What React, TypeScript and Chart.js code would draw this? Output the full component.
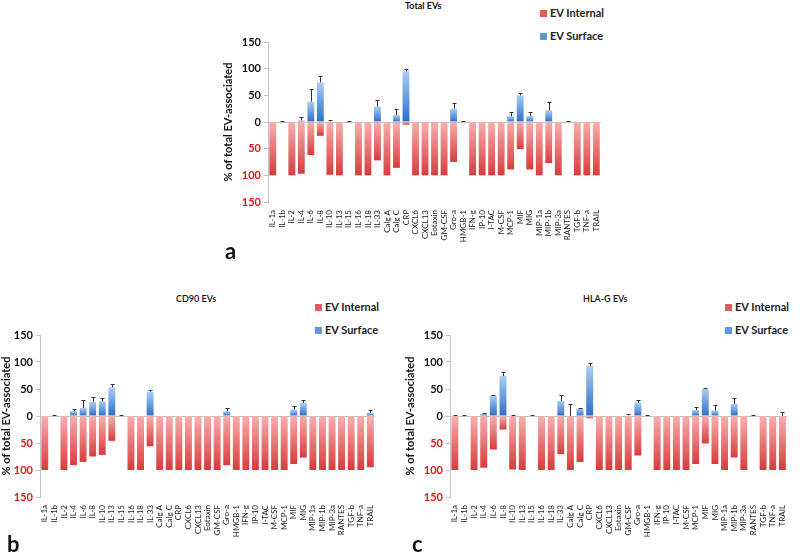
import { useEffect, useRef } from "react";
import Chart from "chart.js/auto";

const cytokines = [
  "IL-1a", "IL-1b", "IL-2", "IL-4", "IL-6", "IL-8", "IL-10", "IL-13", "IL-15", "IL-16",
  "IL-18", "IL-33", "Calg A", "Calg C", "CRP", "CXCL6", "CXCL13", "Eotaxin", "GM-CSF", "Gro-a",
  "HMGB-1", "IFN-g", "IP-10", "I-TAC", "M-CSF", "MCP-1", "MIF", "MIG", "MIP-1a", "MIP-1b",
  "MIP-3a", "RANTES", "TGF-b", "TNF-a", "TRAIL",
];

// Total EVs
const totalInternal = [
  100, 0, 100, 97, 62, 26, 99, 100, 0, 100,
  100, 72, 100, 86, 5, 100, 100, 100, 100, 75,
  0, 100, 100, 100, 100, 89, 51, 89, 100, 77,
  100, 0, 100, 100, 100,
];
const totalSurface = [
  0, 0, 0, 3, 38, 74, 1, 0, 0, 0,
  0, 29, 0, 13, 95, 0, 0, 0, 0, 25,
  0, 0, 0, 0, 0, 11, 50, 11, 0, 22,
  0, 0, 0, 0, 0,
];
const totalSurfaceErr = [
  0, 1, 0, 6, 24, 12, 2, 0, 1, 0,
  0, 12, 0, 12, 5, 0, 0, 0, 0, 11,
  1, 0, 0, 0, 0, 8, 5, 8, 0, 15,
  0, 1, 0, 0, 0,
];

// CD90 EVs
const cd90Internal = [
  100, 0, 100, 91, 85, 75, 72, 46, 0, 100,
  100, 56, 100, 100, 100, 100, 100, 100, 100, 91,
  100, 100, 100, 100, 100, 100, 89, 77, 100, 100,
  100, 100, 100, 100, 95,
];
const cd90Surface = [
  0, 0, 0, 9, 15, 26, 27, 53, 0, 0,
  0, 45, 0, 0, 0, 0, 0, 0, 0, 9,
  0, 0, 0, 0, 0, 0, 12, 24, 0, 0,
  0, 0, 0, 0, 6,
];
const cd90SurfaceErr = [
  0, 1, 0, 4, 15, 9, 6, 6, 1, 0,
  0, 4, 0, 0, 0, 0, 0, 0, 0, 6,
  0, 0, 0, 0, 0, 0, 6, 6, 0, 0,
  0, 0, 0, 0, 5,
];

// HLA-G EVs
const hlagInternal = [
  100, 0, 100, 96, 62, 25, 99, 100, 0, 100,
  100, 71, 100, 85, 4, 100, 100, 100, 100, 73,
  0, 100, 100, 100, 100, 89, 51, 89, 100, 77,
  100, 0, 100, 100, 100,
];
const hlagSurface = [
  1, 0, 0, 4, 38, 74, 1, 0, 0, 0,
  0, 28, 0, 14, 93, 0, 0, 0, 1, 25,
  0, 0, 0, 0, 0, 11, 50, 10, 0, 22,
  0, 0, 0, 0, 0,
];
const hlagSurfaceErr = [
  1, 1, 0, 1, 1, 7, 1, 0, 1, 0,
  0, 10, 23, 1, 6, 0, 0, 0, 3, 4,
  1, 0, 0, 0, 0, 6, 2, 11, 0, 11,
  0, 1, 0, 0, 7,
];

const FONT = "Lato, 'Liberation Sans', sans-serif";

const errorBarPlugin = {
  id: "errorBars",
  afterDatasetsDraw(chart: any) {
    const ctx = chart.ctx;
    const y = chart.scales.y;
    chart.data.datasets.forEach((ds: any, di: number) => {
      const errs: number[] | undefined = ds.errors;
      if (!errs) return;
      const meta = chart.getDatasetMeta(di);
      meta.data.forEach((bar: any, i: number) => {
        const e = errs[i];
        if (!e) return;
        const v = ds.data[i];
        const x = Math.round(bar.x) + 0.5;
        const y0 = y.getPixelForValue(v);
        const y1 = Math.round(y.getPixelForValue(v + e)) + 0.5;
        ctx.save();
        ctx.strokeStyle = "#333";
        ctx.lineWidth = 1;
        ctx.beginPath();
        ctx.moveTo(x, y0);
        ctx.lineTo(x, y1);
        ctx.moveTo(x - 2, y1);
        ctx.lineTo(x + 2, y1);
        ctx.stroke();
        ctx.restore();
      });
    });
  },
};

// gradient from the zero line (c0) to the end of each bar (c1)
function barFill(c0: string, c1: string) {
  return (c: any) => {
    const chart = c.chart;
    const y = chart.scales?.y;
    if (!y || c.type !== "data") return c1;
    const v = c.parsed?.y ?? c.raw;
    const p0 = y.getPixelForValue(0);
    const p1 = y.getPixelForValue(v);
    if (!isFinite(p0) || !isFinite(p1) || Math.abs(p1 - p0) < 1) return c1;
    const g = chart.ctx.createLinearGradient(0, p0, 0, p1);
    g.addColorStop(0, c0);
    g.addColorStop(1, c1);
    return g;
  };
}

type PanelProps = {
  internal: number[];
  surface: number[];
  errors: number[];
  left: number;
  top: number;
  width: number;
  height: number;
  padRight: number;
  yWidth: number;
  xHeight: number;
};

function Panel({ internal, surface, errors, left, top, width, height, padRight, yWidth, xHeight }: PanelProps) {
  const canvasRef = useRef<HTMLCanvasElement | null>(null);

  useEffect(() => {
    if (!canvasRef.current) return;
    const chart = new Chart(canvasRef.current, {
      type: "bar",
      data: {
        labels: cytokines,
        datasets: [
          {
            label: "EV Internal",
            data: internal.map((v) => -v),
            backgroundColor: barFill("#f8aeae", "#d83c3c"),
            categoryPercentage: 0.72,
            barPercentage: 1,
          },
          {
            label: "EV Surface",
            data: surface,
            errors,
            backgroundColor: barFill("#2f6ec4", "#a9cdf5"),
            categoryPercentage: 0.72,
            barPercentage: 1,
          } as any,
        ],
      },
      options: {
        animation: false,
        responsive: true,
        maintainAspectRatio: false,
        layout: { padding: { top: 10, right: padRight, left: 0, bottom: 0 } },
        plugins: { legend: { display: false }, tooltip: { enabled: false } },
        scales: {
          x: {
            stacked: true,
            grid: { display: false, drawTicks: false },
            border: { display: false },
            afterFit: (s: any) => {
              s.height = xHeight;
            },
            ticks: {
              autoSkip: false,
              minRotation: 90,
              maxRotation: 90,
              padding: 8,
              color: "#222",
              font: { family: FONT, size: 8 },
            },
          },
          y: {
            stacked: true,
            min: -150,
            max: 150,
            afterFit: (s: any) => {
              s.width = yWidth;
            },
            grid: {
              color: (c: any) => (c.tick && c.tick.value === 0 ? "#c4c4c4" : "rgba(0,0,0,0)"),
              tickColor: "#c4c4c4",
              tickLength: 4,
            },
            border: { display: true, color: "#c4c4c4" },
            ticks: {
              stepSize: 50,
              padding: 3,
              callback: (v: any) => String(Math.abs(Number(v))),
              color: (c: any) => (c.tick && c.tick.value < 0 ? "#e8141b" : "#111"),
              font: { family: FONT, size: 11, weight: "bold" },
            },
            title: {
              display: true,
              text: "% of total EV-associated",
              color: "#111",
              padding: 0,
              font: { family: FONT, size: 11, weight: "bold" },
            },
          },
        },
      },
      plugins: [errorBarPlugin],
    });
    return () => {
      chart.destroy();
    };
  }, [internal, surface, errors, padRight, yWidth, xHeight]);

  return (
    <div style={{ position: "absolute", left, top, width, height }}>
      <canvas ref={canvasRef} />
    </div>
  );
}

function Legend({ left, top }: { left: number; top: number }) {
  const row = (color: string, text: string, y: number) => (
    <div style={{ position: "absolute", left: 0, top: y, display: "flex", alignItems: "center", whiteSpace: "nowrap", height: 14 }}>
      <span style={{ display: "inline-block", width: 7, height: 7, background: color, marginRight: 3 }} />
      <span style={{ fontFamily: FONT, fontWeight: 700, fontSize: 11, color: "#222", lineHeight: "14px" }}>{text}</span>
    </div>
  );
  return (
    <div style={{ position: "absolute", left, top }}>
      {row("#e35a5a", "EV Internal", 0)}
      {row("#5d97dc", "EV Surface", 23)}
    </div>
  );
}

function Label({ text, left, top, size, weight }: { text: string; left: number; top: number; size: number; weight: number }) {
  return (
    <div
      style={{
        position: "absolute",
        left,
        top,
        fontFamily: FONT,
        fontSize: size,
        fontWeight: weight,
        lineHeight: 1,
        color: "#111",
        whiteSpace: "nowrap",
      }}
    >
      {text}
    </div>
  );
}

export default function App() {
  return (
    <div style={{ position: "absolute", left: 0, top: 0, width: 800, height: 555, background: "#fff", overflow: "hidden" }}>
      <Label text="Total EVs" left={405} top={1} size={9} weight={700} />
      <Legend left={540} top={6} />
      <Panel
        internal={totalInternal}
        surface={totalSurface}
        errors={totalSurfaceErr}
        left={222}
        top={32}
        width={392}
        height={220}
        padRight={5}
        yWidth={46}
        xHeight={50}
      />
      <Label text="a" left={225} top={240} size={22} weight={700} />

      <Label text="CD90 EVs" left={176} top={294} size={9} weight={600} />
      <Legend left={315} top={300} />
      <Panel
        internal={cd90Internal}
        surface={cd90Surface}
        errors={cd90SurfaceErr}
        left={0}
        top={325}
        width={388}
        height={220}
        padRight={5}
        yWidth={40}
        xHeight={48}
      />
      <Label text="b" left={7} top={533} size={22} weight={700} />

      <Label text="HLA-G EVs" left={583} top={294} size={9} weight={600} />
      <Legend left={725} top={300} />
      <Panel
        internal={hlagInternal}
        surface={hlagSurface}
        errors={hlagSurfaceErr}
        left={404}
        top={325}
        width={396}
        height={220}
        padRight={2}
        yWidth={46}
        xHeight={48}
      />
      <Label text="c" left={412} top={533} size={22} weight={700} />
    </div>
  );
}
